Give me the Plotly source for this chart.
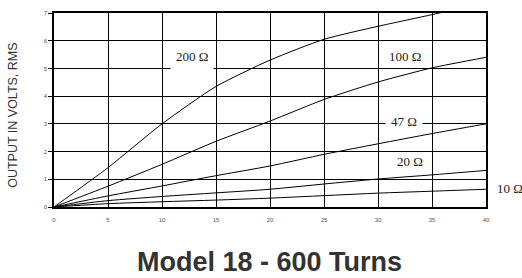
import plotly.graph_objects as go

turns_x = [0, 5, 10, 15, 20, 25, 30, 35, 40]
r200_x = [0, 5, 10, 15, 20, 25, 30, 35, 37]
r200_y = [0, 1.42, 3.0, 4.35, 5.3, 6.05, 6.52, 6.94, 7.12]
r100_y = [0, 0.75, 1.54, 2.37, 3.1, 3.88, 4.51, 5.02, 5.40]
r47_y = [0, 0.40, 0.76, 1.13, 1.48, 1.90, 2.28, 2.65, 3.0]
r20_y = [0, 0.23, 0.38, 0.51, 0.64, 0.83, 1.01, 1.16, 1.32]
r10_y = [0, 0.12, 0.19, 0.25, 0.32, 0.41, 0.50, 0.57, 0.64]

labels = ["200 Ω", "100 Ω", "47 Ω", "20 Ω", "10 Ω"]
label_x = [12.8, 32.5, 32.4, 33.0, 42.2]
label_y = [5.42, 5.42, 3.1, 1.64, 0.66]
label_bg = [True, False, True, False, False]

x_ticks = [0, 5, 10, 15, 20, 25, 30, 35, 40]
y_ticks = [0, 1, 2, 3, 4, 5, 6, 7]
X_MAX, Y_MAX = 40, 7

fig = go.Figure()
series = [(r200_x, r200_y), (turns_x, r100_y), (turns_x, r47_y), (turns_x, r20_y), (turns_x, r10_y)]
for xs, ys in series:
    fig.add_trace(go.Scatter(x=xs, y=ys, mode="lines",
                             line=dict(color="black", width=1, shape="spline", smoothing=0.6),
                             showlegend=False, hoverinfo="skip"))

for t, lx, ly, bg in zip(labels, label_x, label_y, label_bg):
    fig.add_annotation(x=lx / X_MAX, y=ly / Y_MAX, xref="paper", yref="paper", text=t, showarrow=False,
                       xanchor="center", yanchor="middle",
                       font=dict(family="Liberation Serif", size=13, color="#222"),
                       bgcolor="white" if bg else "rgba(0,0,0,0)", borderpad=5)

fig.add_annotation(x=-0.095, y=0.475, xref="paper", yref="paper", text="OUTPUT IN VOLTS, RMS",
                   textangle=-90, showarrow=False, xanchor="center", yanchor="middle",
                   font=dict(family="Liberation Sans", size=12.5, color="#333"))
fig.add_annotation(x=0.499, y=-0.284, xref="paper", yref="paper", text="<b>Model 18 - 600 Turns</b>",
                   showarrow=False, xanchor="center", yanchor="middle",
                   font=dict(family="Liberation Sans", size=27, color="#333"))

fig.update_xaxes(range=[0, X_MAX], tickvals=x_ticks, showgrid=True, gridcolor="black", gridwidth=1,
                 showline=True, linecolor="black", linewidth=1.5, mirror=True,
                 ticks="outside", ticklen=6, tickcolor="rgba(0,0,0,0)",
                 tickfont=dict(family="Liberation Sans", size=6, color="#555"), zeroline=False)
fig.update_yaxes(range=[0, Y_MAX], tickvals=y_ticks, showgrid=True, gridcolor="black", gridwidth=1,
                 showline=True, linecolor="black", linewidth=1.5, mirror=True,
                 ticks="outside", ticklen=4, tickcolor="black",
                 tickfont=dict(family="Liberation Sans", size=6, color="#555"), zeroline=False)

fig.update_layout(width=522, height=278, margin=dict(l=54, r=36, t=10, b=71),
                  plot_bgcolor="white", paper_bgcolor="white")
fig.write_html("out.html", config={"displayModeBar": False},
               post_script="document.body.style.margin='0';")
